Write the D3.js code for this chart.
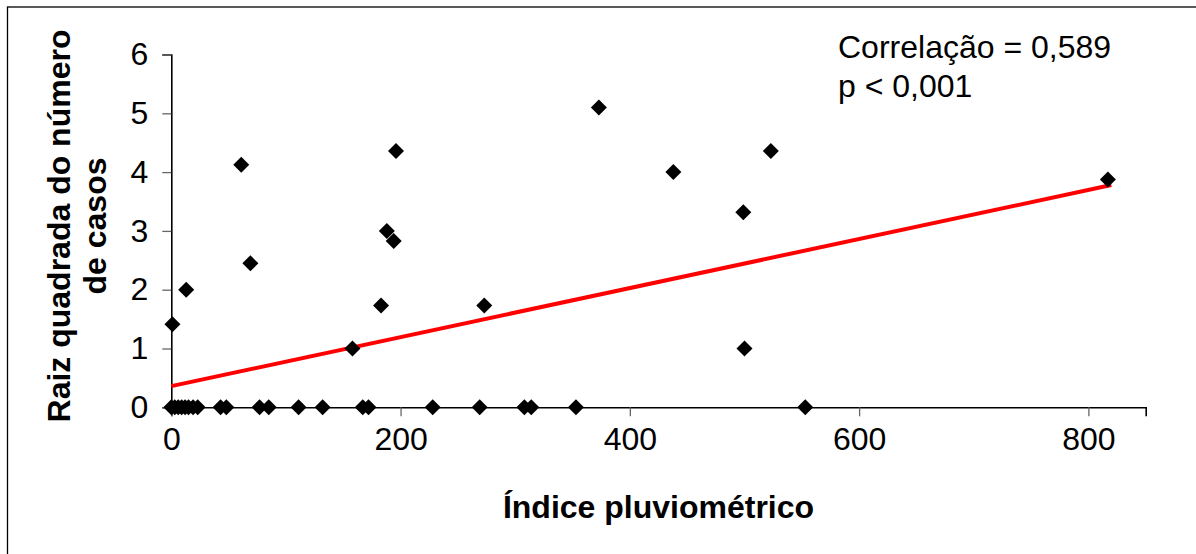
<!DOCTYPE html>
<html>
<head>
<meta charset="utf-8">
<script src="https://cdn.jsdelivr.net/npm/d3@7"></script>
<style>
  body { margin: 0; background: #fff; }
  text { font-family: "Liberation Sans", Arial, sans-serif; fill: #000; }
</style>
</head>
<body>
<div id="chart"></div>
<script>
// rainfall index vs sqrt(cases)
var indice = [0, 3, 6, 9, 12, 15, 19, 23, 43, 48, 77, 85, 111, 132, 167, 172, 228, 269, 308, 314, 353, 553,
              1, 13, 61, 69, 158, 183, 188, 194, 196, 273, 373, 438, 499, 500, 523, 817];
var raizCasos = [0, 0, 0, 0, 0, 0, 0, 0, 0, 0, 0, 0, 0, 0, 0, 0, 0, 0, 0, 0, 0, 0,
                 1.414, 2.0, 4.123, 2.449, 1.0, 1.732, 3.0, 2.828, 4.359, 1.732, 5.099, 4.0, 3.317, 1.0, 4.359, 3.873];
var xTicks = [0, 200, 400, 600, 800];
var yTicks = [0, 1, 2, 3, 4, 5, 6];
var linha = {intercept: 0.36, slope: 0.00417, xStart: 0, xEnd: 820};
var anotacao = ["Correlação = 0,589", "p < 0,001"];

function drawChart(){
    var width = 1196, height = 554;
    var left = 171.3, right = 1145.7, top = 54.5, bottom = 407.3;

    var xScale = d3.scaleLinear().domain([0, 850]).range([left, right]);
    var yScale = d3.scaleLinear().domain([0, 6]).range([bottom, top]);

    var svg = d3.select("#chart").append("svg")
    .attr("width", width)
    .attr("height", height);

    svg.append("rect")
    .attr("x", 7.5).attr("y", 7)
    .attr("width", 1210).attr("height", 570)
    .attr("fill", "none").attr("stroke", "#000").attr("stroke-width", 1.3);

    var xAxis = svg.append("g")
    .attr("transform", "translate(0," + bottom + ")")
    .call(d3.axisBottom(xScale).tickValues(xTicks).tickFormat(d3.format("d")).tickSize(9).tickPadding(9));

    var yAxis = svg.append("g")
    .attr("transform", "translate(" + left + ",0)")
    .call(d3.axisLeft(yScale).tickValues(yTicks).tickFormat(d3.format("d")).tickSize(9).tickPadding(14));

    [xAxis, yAxis].forEach(function(a){
        a.select(".domain").attr("stroke", "#000").attr("stroke-width", 1.6);
        a.selectAll(".tick line").attr("stroke", "#666").attr("stroke-width", 1.3);
        a.selectAll(".tick text").style("font-size", "32px")
        .style("font-family", "'Liberation Sans', Arial, sans-serif").attr("fill", "#000");
    });
    xAxis.selectAll(".tick text").attr("dy", "0.76em");

    svg.append("text")
    .attr("x", (left + right) / 2)
    .attr("y", 518)
    .style("text-anchor", "middle")
    .style("font-size", "32px").style("font-weight", "bold")
    .text("Índice pluviométrico");

    var ylab = svg.append("text")
    .attr("transform", "rotate(-90)")
    .style("text-anchor", "middle")
    .style("font-size", "32px").style("font-weight", "bold");
    ylab.append("tspan").attr("x", -226).attr("y", 70).text("Raiz quadrada do número");
    ylab.append("tspan").attr("x", -226).attr("y", 106).text("de casos");

    svg.append("line")
    .attr("x1", xScale(linha.xStart))
    .attr("y1", yScale(linha.intercept + linha.slope * linha.xStart))
    .attr("x2", xScale(linha.xEnd))
    .attr("y2", yScale(linha.intercept + linha.slope * linha.xEnd))
    .attr("stroke", "#ff0000").attr("stroke-width", 4);

    var sym = d3.symbol().type(d3.symbolSquare).size(128);
    svg.selectAll(".pt")
    .data(indice)
    .enter().append("path")
    .attr("class", "pt")
    .attr("d", sym)
    .attr("transform", function(d, i){
        return "translate(" + xScale(d) + "," + yScale(raizCasos[i]) + ") rotate(45)";
    })
    .attr("fill", "#000");

    svg.selectAll(".anot")
    .data(anotacao)
    .enter().append("text")
    .attr("class", "anot")
    .attr("x", 838)
    .attr("y", function(d, i){ return 58 + i * 39; })
    .style("font-size", "32px")
    .text(function(d){ return d; });
}

drawChart();
</script>
</body>
</html>
